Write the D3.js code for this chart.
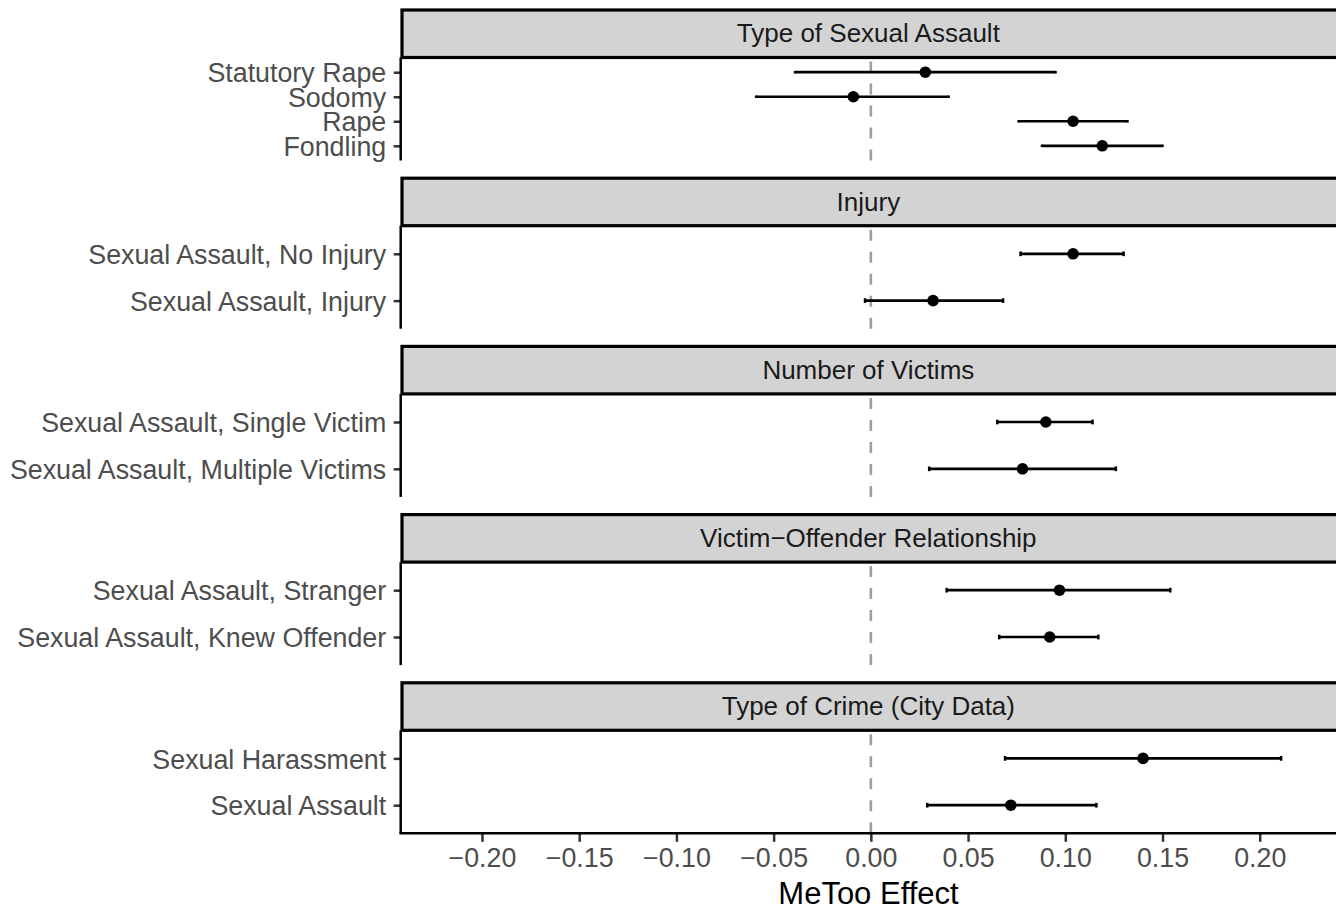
<!DOCTYPE html>
<html>
<head>
<meta charset="utf-8">
<script src="https://cdn.jsdelivr.net/npm/d3@7"></script>
<style>
  html, body { margin: 0; padding: 0; background: #ffffff; }
  svg { display: block; font-family: "Liberation Sans", Arial, Helvetica, sans-serif; }
</style>
</head>
<body>
<svg id="chart" width="1336" height="907"></svg>
<script>
// ---- data ----
const facets = [
  "Type of Sexual Assault",
  "Injury",
  "Number of Victims",
  "Victim\u2212Offender Relationship",
  "Type of Crime (City Data)"
];
// rows listed top-to-bottom within each facet
const rowFacet = [0, 0, 0, 0, 1, 1, 2, 2, 3, 3, 4, 4];
const rowLabel = [
  "Statutory Rape", "Sodomy", "Rape", "Fondling",
  "Sexual Assault, No Injury", "Sexual Assault, Injury",
  "Sexual Assault, Single Victim", "Sexual Assault, Multiple Victims",
  "Sexual Assault, Stranger", "Sexual Assault, Knew Offender",
  "Sexual Harassment", "Sexual Assault"
];
const estimate = [0.028, -0.009, 0.104, 0.119, 0.104, 0.032, 0.090, 0.078, 0.097, 0.092, 0.140, 0.072];
const lower    = [-0.039, -0.059, 0.076, 0.088, 0.077, -0.003, 0.065, 0.030, 0.039, 0.066, 0.069, 0.029];
const upper    = [0.095, 0.040, 0.132, 0.150, 0.130, 0.068, 0.114, 0.126, 0.154, 0.117, 0.211, 0.116];
const xTicks = [-0.20, -0.15, -0.10, -0.05, 0.00, 0.05, 0.10, 0.15, 0.20];
const xTitle = "MeToo Effect";

// ---- layout ----
const svg = d3.select("#chart");
const left = 400.7;
const top0 = 10;
const stripH = 47.5;
const bodyH = 103;
const period = 168.2;

const x = d3.scaleLinear().domain([-0.2418, 0.2418]).range([left, 1341]);

const fmt = v => (v < 0 ? "\u2212" : "") + Math.abs(v).toFixed(2);

facets.forEach((f, i) => {
  const sTop = top0 + i * period;
  const bTop = sTop + stripH;
  const bBot = bTop + bodyH;
  const idx = rowFacet.map((ff, k) => ff === i ? k : -1).filter(k => k >= 0);
  const y = d3.scalePoint().domain(idx.map(k => rowLabel[k])).range([bTop, bBot]).padding(0.6);
  const step = y.step();

  const g = svg.append("g");

  // dashed zero line (drawn bottom -> top)
  g.append("line")
    .attr("x1", x(0)).attr("x2", x(0))
    .attr("y1", bBot).attr("y2", bTop)
    .attr("stroke", "#9e9e9e").attr("stroke-width", 2.6)
    .attr("stroke-dasharray", "11,11");

  // error bars
  idx.forEach(k => {
    const yy = y(rowLabel[k]);
    const ch = step * 0.05;
    g.append("line")
      .attr("x1", x(lower[k])).attr("x2", x(upper[k]))
      .attr("y1", yy).attr("y2", yy)
      .attr("stroke", "#000").attr("stroke-width", 2.7);
    [lower[k], upper[k]].forEach(v => {
      g.append("line")
        .attr("x1", x(v)).attr("x2", x(v))
        .attr("y1", yy - ch).attr("y2", yy + ch)
        .attr("stroke", "#000").attr("stroke-width", 2.5);
    });
    g.append("circle")
      .attr("cx", x(estimate[k])).attr("cy", yy).attr("r", 5.8)
      .attr("fill", "#000");
  });

  // y axis
  const yAxis = d3.axisLeft(y).tickSize(7).tickPadding(7.5);
  const ya = g.append("g").attr("transform", `translate(${left},0)`).call(yAxis);
  ya.select(".domain").remove();
  ya.selectAll(".tick line").attr("stroke", "#333333").attr("stroke-width", 2.5);
  ya.selectAll(".tick text")
    .attr("fill", "#4d4d4d").attr("font-size", 26.8)
    .attr("font-family", "Liberation Sans, Arial, sans-serif")
    .attr("dy", "0.36em");
  g.append("line")
    .attr("x1", left).attr("x2", left)
    .attr("y1", bTop).attr("y2", bBot)
    .attr("stroke", "#000").attr("stroke-width", 2.5);

  // strip
  g.append("rect")
    .attr("x", left + 1.3).attr("y", sTop)
    .attr("width", 1400).attr("height", stripH)
    .attr("fill", "#d3d3d3").attr("stroke", "#000").attr("stroke-width", 3.2);
  g.append("text")
    .attr("x", (left + 1336) / 2).attr("y", sTop + stripH / 2)
    .attr("dy", "0.33em").attr("text-anchor", "middle")
    .attr("font-size", 26).attr("fill", "#1a1a1a")
    .text(f);

  // x axis on last panel
  if (i === facets.length - 1) {
    const xAxis = d3.axisBottom(x).tickValues(xTicks).tickFormat(fmt).tickSize(8.5).tickPadding(6);
    const xa = g.append("g").attr("transform", `translate(0,${bBot})`).call(xAxis);
    xa.select(".domain").remove();
    xa.selectAll(".tick line").attr("stroke", "#333333").attr("stroke-width", 2.5);
    xa.selectAll(".tick text")
      .attr("fill", "#4d4d4d").attr("font-size", 26.8)
      .attr("font-family", "Liberation Sans, Arial, sans-serif")
      .attr("dy", "0.71em");
    g.append("line")
      .attr("x1", left - 1.25).attr("x2", 1340)
      .attr("y1", bBot).attr("y2", bBot)
      .attr("stroke", "#000").attr("stroke-width", 2.5);
    svg.append("text")
      .attr("x", 868.5).attr("y", 903.5)
      .attr("text-anchor", "middle")
      .attr("font-size", 31).attr("fill", "#000")
      .text(xTitle);
  }
});
</script>
</body>
</html>
